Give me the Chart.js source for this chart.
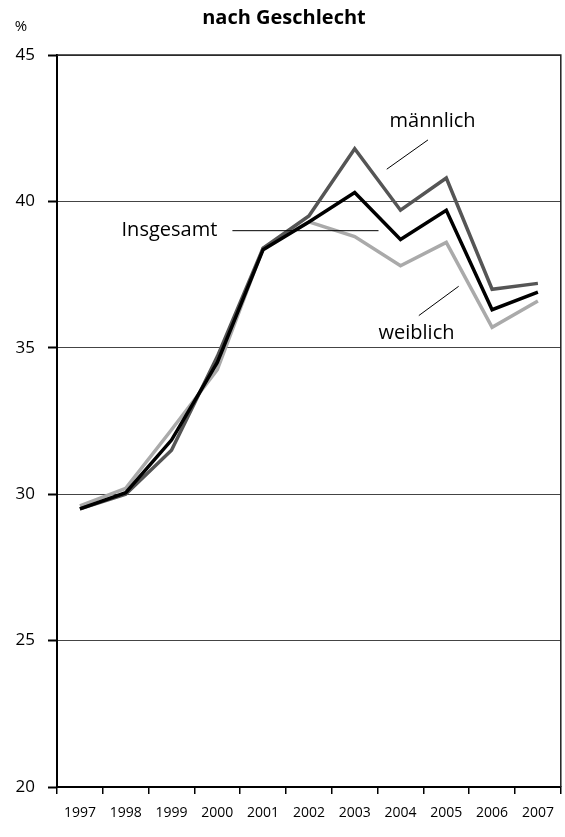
<!DOCTYPE html>
<html>
<head>
<meta charset="utf-8">
<script src="https://cdn.jsdelivr.net/npm/chart.js@4/dist/chart.umd.min.js"></script>
<style>
  html, body { margin: 0; padding: 0; background: #fff; }
  #wrap { width: 565px; height: 837px; position: relative; }
</style>
</head>
<body>
<div id="wrap"><canvas id="c" width="565" height="837"></canvas></div>
<script>
const years = ['1997','1998','1999','2000','2001','2002','2003','2004','2005','2006','2007'];
const insgesamt = [29.5, 30.05, 31.85, 34.5, 38.35, 39.3, 40.3, 38.7, 39.7, 36.3, 36.9];
const maennlich = [29.5, 30.0, 31.5, 34.7, 38.4, 39.5, 41.8, 39.7, 40.8, 37.0, 37.2];
const weiblich  = [29.6, 30.2, 32.2, 34.25, 38.4, 39.3, 38.8, 37.8, 38.6, 35.7, 36.6];
const yTicks = [20, 25, 30, 35, 40, 45];
const titleText = 'nach Geschlecht';
const unitText = '%';
// annotation labels: [text, x index, y value, align]
const labels = [
  ['männlich', 7.7, 42.75, 'center'],
  ['weiblich', 7.35, 35.5, 'center'],
  ['Insgesamt', 3.0, 39.0, 'right']
];
// leader lines: [x1 index, y1, x2 index, y2]
const leaders = [
  [6.7, 41.1, 7.6, 42.1],
  [7.4, 36.1, 8.27, 37.1],
  [3.33, 39.0, 6.52, 39.0]
];

const FONT = '"Open Sans", "Noto Sans", sans-serif';

const decor = {
  id: 'decor',
  afterDraw(chart) {
    const ctx = chart.ctx;
    const a = chart.chartArea;
    const xs = chart.scales.x, ys = chart.scales.y;
    ctx.save();
    // top and right border
    ctx.strokeStyle = '#222';
    ctx.lineWidth = 1.5;
    ctx.beginPath();
    ctx.moveTo(a.left, a.top);
    ctx.lineTo(a.right, a.top);
    ctx.lineTo(a.right, a.bottom);
    ctx.stroke();
    // title
    ctx.fillStyle = '#000';
    ctx.font = 'bold 20px ' + FONT;
    ctx.textAlign = 'center';
    ctx.textBaseline = 'middle';
    ctx.fillText(titleText, 284, 18);
    ctx.font = '15px ' + FONT;
    ctx.fillText(unitText, 21, 27);
    // leaders
    ctx.strokeStyle = '#000';
    ctx.lineWidth = 1;
    leaders.forEach(l => {
      ctx.beginPath();
      ctx.moveTo(xs.getPixelForValue(l[0]), ys.getPixelForValue(l[1]));
      ctx.lineTo(xs.getPixelForValue(l[2]), ys.getPixelForValue(l[3]));
      ctx.stroke();
    });
    // labels
    ctx.font = '20px ' + FONT;
    ctx.textBaseline = 'middle';
    labels.forEach(l => {
      ctx.textAlign = l[3];
      ctx.fillText(l[0], xs.getPixelForValue(l[1]), ys.getPixelForValue(l[2]));
    });
    ctx.restore();
  }
};

new Chart(document.getElementById('c'), {
  type: 'line',
  data: {
    labels: years,
    datasets: [
      { label: 'Insgesamt', data: insgesamt, borderColor: '#000', borderWidth: 3.5, order: 0 },
      { label: 'männlich', data: maennlich, borderColor: '#555', borderWidth: 3.5, order: 1 },
      { label: 'weiblich', data: weiblich, borderColor: '#aaa', borderWidth: 3.5, order: 2 }
    ]
  },
  options: {
    responsive: false,
    animation: false,
    devicePixelRatio: 1,
    layout: { padding: { top: 55, right: 2, left: 0, bottom: 0 } },
    elements: { point: { radius: 0 }, line: { tension: 0, borderJoinStyle: 'miter', borderCapStyle: 'butt' } },
    plugins: { legend: { display: false }, tooltip: { enabled: false }, title: { display: false } },
    scales: {
      x: {
        type: 'category',
        offset: true,
        grid: { offset: true, drawOnChartArea: false, drawTicks: true, tickLength: 7, color: '#000', lineWidth: 1.5 },
        border: { display: true, color: '#000', width: 2 },
        ticks: { color: '#000', font: { family: FONT, size: 14 }, padding: 11, maxRotation: 0, autoSkip: false },
        afterFit(s) { s.height = 50; }
      },
      y: {
        min: 20, max: 45,
        afterBuildTicks(s) { s.ticks = yTicks.map(v => ({ value: v })); },
        grid: { color: '#444', lineWidth: 1, tickLength: 9, drawTicks: true, tickColor: '#000', tickWidth: 2 },
        border: { display: true, color: '#000', width: 2 },
        ticks: { color: '#000', font: { family: FONT, size: 17 }, padding: 13 },
        afterFit(s) { s.width = 57; }
      }
    }
  },
  plugins: [decor]
});
</script>
</body>
</html>
